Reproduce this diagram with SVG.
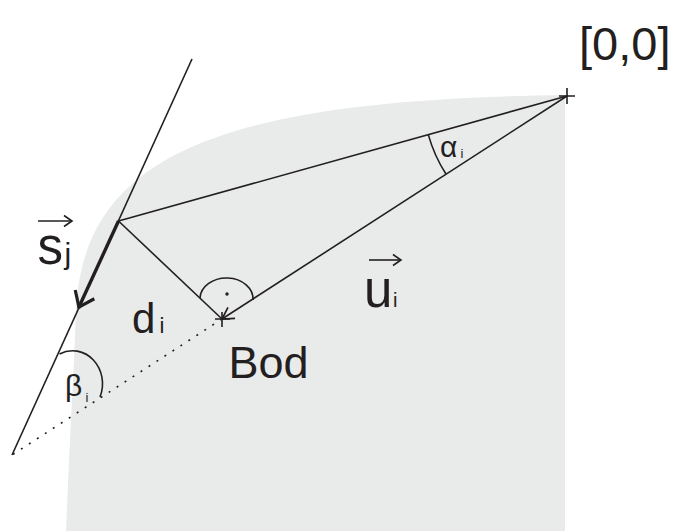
<svg xmlns="http://www.w3.org/2000/svg" width="673" height="531" viewBox="0 0 673 531">
<style>
  .ln{fill:none;stroke:#231f20;stroke-width:1.6;stroke-linecap:butt}
  .thick{fill:none;stroke:#231f20;stroke-width:3.4}
  .dot{fill:none;stroke:#231f20;stroke-width:1.6;stroke-dasharray:2 7.5}
  .t{font-family:"Liberation Sans",Arial,sans-serif;fill:#231f20}
</style>
<defs>
  <marker id="openArrow" markerUnits="userSpaceOnUse" orient="auto" refX="0" refY="0" markerWidth="30" markerHeight="30" viewBox="-20 -15 30 30" overflow="visible">
    <path d="M -11.3 -6.5 L 0 0 L -11.3 6.5" fill="none" stroke="#231f20" stroke-width="1.7"/>
  </marker>
  <marker id="thickArrow" markerUnits="userSpaceOnUse" orient="auto" refX="0" refY="0" markerWidth="40" markerHeight="40" viewBox="-25 -20 40 40" overflow="visible">
    <path d="M -15 -10.5 L -1 0 L -15 10.5" fill="none" stroke="#231f20" stroke-width="3.2"/>
  </marker>
  <marker id="vecArrow" markerUnits="userSpaceOnUse" orient="auto" refX="0" refY="0" markerWidth="20" markerHeight="20" viewBox="-12 -10 20 20" overflow="visible">
    <path d="M -8 -5.5 L 0 0 L -8 5.5" fill="none" stroke="#231f20" stroke-width="1.6"/>
  </marker>
</defs>

<g id="region">
  <path d="M 565 95 L 565 531 L 66 531 L 69 460 L 74 360 L 76 310 C 84 150, 230 100, 565 95 Z" fill="#e9eaea"/>
</g>

<g id="connectors">
  <line id="line-s" class="ln" x1="192" y1="59" x2="12" y2="455"/>
  <line id="vec-s" class="thick" x1="118.5" y1="221" x2="78.5" y2="308" marker-end="url(#thickArrow)"/>
  <line id="origin-P" class="ln" x1="567" y1="96" x2="118.5" y2="221"/>
  <line id="P-Bod" class="ln" x1="118.5" y1="221" x2="222" y2="319"/>
  <line id="vec-u" class="ln" x1="567" y1="96" x2="222" y2="319" marker-end="url(#openArrow)"/>
  <line id="extension" class="dot" x1="222" y1="319" x2="12" y2="455"/>
  <path id="arc-alpha" class="ln" d="M 428.3 134.6 A 144 144 0 0 0 446.1 174.2"/>
  <path id="arc-right" class="ln" d="M 200 298 A 26.5 21 0 0 1 253 300"/>
  <circle cx="227" cy="294" r="1.7" fill="#231f20"/>
  <path id="arc-beta" class="ln" d="M 59.5 354 A 30 33 0 0 1 100 397"/>
</g>

<g id="origin">
  <path class="ln" d="M 559 96 H 575 M 567 88 V 104"/>
  <text class="t" x="579" y="60" font-size="47">[0,0]</text>
</g>

<g id="bod">
  <path class="ln" d="M 215 319 H 230 M 222 312 V 327"/>
  <text class="t" x="228.5" y="378" font-size="45">Bod</text>
</g>

<g id="label-s">
  <line class="ln" x1="38" y1="221" x2="72" y2="221" marker-end="url(#vecArrow)"/>
  <text class="t" x="37.5" y="264" font-size="51">s</text>
  <text class="t" x="64.5" y="264" font-size="30">j</text>
</g>

<g id="label-u">
  <line class="ln" x1="369" y1="260" x2="401" y2="260" marker-end="url(#vecArrow)"/>
  <text class="t" x="364" y="307" font-size="51">u</text>
  <text class="t" x="393" y="307" font-size="20">i</text>
</g>

<g id="label-d">
  <text class="t" x="132" y="333" font-size="42">d</text>
  <text class="t" x="159.5" y="333" font-size="22">i</text>
</g>

<g id="label-alpha">
  <text class="t" x="440" y="157" font-size="30">α</text>
  <text class="t" x="460.5" y="158" font-size="13">i</text>
</g>

<g id="label-beta">
  <text class="t" x="65" y="396" font-size="30">β</text>
  <text class="t" x="85.5" y="402" font-size="13">i</text>
</g>
</svg>
